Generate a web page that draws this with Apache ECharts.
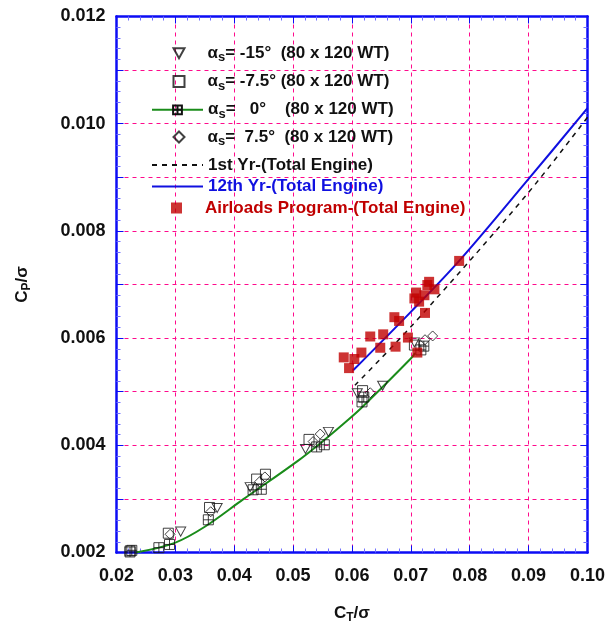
<!DOCTYPE html>
<html><head><meta charset="utf-8">
<script src="https://cdn.jsdelivr.net/npm/echarts@6/dist/echarts.min.js"></script>
<style>html,body{margin:0;padding:0;background:#fff}#c{width:608px;height:629px}</style>
</head><body><div id="c"></div>
<script>
// ---- data ----
const alphaM15 = [[0.0309,0.00239],[0.0371,0.00283],[0.0427,0.00322],[0.0521,0.00393],[0.0560,0.00425],[0.0609,0.00497],[0.0652,0.00511],[0.0706,0.00592]];
const alphaM75 = [[0.0223,0.00203],[0.0288,0.00236],[0.0358,0.00284],[0.0438,0.00337],[0.0453,0.00346],[0.0527,0.00411],[0.0618,0.00502],[0.0706,0.00587]];
const alpha0   = [[0.0223,0.00201],[0.0226,0.00204],[0.0272,0.00209],[0.0290,0.00215],[0.0356,0.00261],[0.0432,0.00317],[0.0446,0.00318],[0.0540,0.00397],[0.0553,0.00401],[0.0617,0.00481],[0.0620,0.00490],[0.0717,0.00578],[0.0722,0.00585]];
const alpha75  = [[0.0291,0.00234],[0.0360,0.00276],[0.0443,0.00332],[0.0452,0.00341],[0.0534,0.00407],[0.0546,0.00421],[0.0631,0.00498],[0.0724,0.00597],[0.0737,0.00604]];
const fit0     = [[0.0233,0.00200],[0.0299,0.00218],[0.0350,0.00248],[0.0415,0.00299],[0.0508,0.00371],[0.0553,0.00410],[0.0596,0.00450],[0.0618,0.00472],[0.0700,0.00562],[0.0707,0.00572]];
const year1    = [[0.0605,0.00512],[0.0704,0.00626],[0.0894,0.00864],[0.1000,0.01012]];
const year12   = [[0.0602,0.00540],[0.0700,0.00649],[0.0782,0.00744],[0.0900,0.00897],[0.1000,0.01029]];
const airloads = [[0.0782,0.00744],[0.0731,0.00705],[0.0728,0.00699],[0.0740,0.00691],[0.0709,0.00685],[0.0723,0.00680],[0.0706,0.00674],[0.0714,0.00668],[0.0724,0.00647],[0.0672,0.00639],[0.0680,0.00632],[0.0631,0.00603],[0.0653,0.00607],[0.0695,0.00601],[0.0648,0.00582],[0.0674,0.00584],[0.0711,0.00573],[0.0616,0.00573],[0.0586,0.00564],[0.0604,0.00561],[0.0595,0.00544]];
const legendNames = {
  am15: '{g|α}{s|s}{t|= -15°  (80 x 120 WT)}',
  am75: '{g|α}{s|s}{t|= -7.5° (80 x 120 WT)}',
  a0:   '{g|α}{s|s}{t|=   0°    (80 x 120 WT)}',
  a75:  '{g|α}{s|s}{t|=  7.5°  (80 x 120 WT)}',
  yr1:  '1st Yr-(Total Engine)',
  yr12: '12th Yr-(Total Engine)',
  air:  'Airloads Program-(Total Engine)'
};
const xLabelDigits = 2, yLabelDigits = 3;

// ---- chart ----
const FONT = "'Liberation Sans', Arial, sans-serif";
const BLUE = '#0c0cf5';
const PINK = '#ff0a8c';
const triDown = 'path://M0,0L10,0L5,9Z';
const boxPlus = 'path://M0,0H10V10H0Z M5,0V10 M0,5H10';
const openStyle = {color: 'none', borderColor: '#111', borderWidth: 1};
function richAlpha(padLeft) {
  return {
    g: {fontFamily: FONT, fontWeight: 'bold', fontSize: 17, color: '#111', lineHeight: 22, padding: [0, 0, 0, padLeft]},
    s: {fontFamily: FONT, fontWeight: 'bold', fontSize: 13, color: '#111', padding: [9, 0, 0, 0], lineHeight: 22},
    t: {fontFamily: FONT, fontWeight: 'bold', fontSize: 17, color: '#111', lineHeight: 22}
  };
}
function axisCommon(extra) {
  return Object.assign({
    axisLine: {show: true, onZero: false, lineStyle: {color: BLUE, width: 2.5}},
    axisTick: {show: true, inside: true, length: 7, lineStyle: {color: BLUE, width: 1}},
    minorTick: {show: true, splitNumber: 5, length: 4, lineStyle: {color: '#7070ff', width: 1}},
    splitLine: {show: false},
    axisLabel: {show: false}
  }, extra);
}
function legendRow(name, centerY, wide, textColor, alpha) {
  const padLeft = wide ? 0 : 18;
  const lg = {
    orient: 'vertical', selectedMode: false,
    left: wide ? 146 : 166, itemWidth: wide ? 51 : 11, itemHeight: 11,
    top: centerY - (alpha ? 14.5 : 13),
    formatter: n => legendNames[n],
    data: [{name: name, textStyle: {color: textColor}}]
  };
  if (alpha) lg.textStyle = {rich: richAlpha(padLeft)};
  else lg.textStyle = {fontFamily: FONT, fontWeight: 'bold', fontSize: 17, lineHeight: 18, color: textColor,
    padding: [0, 0, 0, padLeft]};
  if (name === 'yr1' || name === 'yr12') lg.data[0].itemStyle = {opacity: 0};
  return lg;
}
const chart = echarts.init(document.getElementById('c'), null, {renderer: 'canvas'});
chart.setOption({
  animation: false,
  backgroundColor: '#fff',
  grid: {left: 116.5, right: 19.5, top: 16.5, bottom: 76.5, containLabel: false},
  xAxis: [
    axisCommon({type: 'value', min: 0.02, max: 0.10, interval: 0.01, position: 'bottom',
      splitLine: {show: true, lineStyle: {color: PINK, type: [4, 4], width: 1}},
      axisLabel: {show: true, margin: 15, fontFamily: FONT, fontWeight: 'bold', fontSize: 18, color: '#111',
        formatter: v => v.toFixed(xLabelDigits)},
      name: '{a|C}{b|T}{a|/σ}', nameLocation: 'middle', nameGap: 50,
      nameTextStyle: {rich: {
        a: {fontFamily: FONT, fontWeight: 'bold', fontSize: 17, color: '#111'},
        b: {fontFamily: FONT, fontWeight: 'bold', fontSize: 12, color: '#111', padding: [9, 0, 0, 0]}}}
    }),
    axisCommon({type: 'value', min: 0.02, max: 0.10, interval: 0.01, position: 'top'})
  ],
  yAxis: [
    axisCommon({type: 'value', min: 0.002, max: 0.012, interval: 0.001, position: 'left',
      splitLine: {show: true, lineStyle: {color: PINK, type: [4, 4], width: 1}},
      axisLabel: {show: true, margin: 11, fontFamily: FONT, fontWeight: 'bold', fontSize: 18, color: '#111',
        formatter: v => (Math.round(v * 1000) % 2 === 0 ? v.toFixed(yLabelDigits) : '')},
      name: '{a|C}{b|P}{a|/σ}', nameLocation: 'middle', nameGap: 84,
      nameTextStyle: {rich: {
        a: {fontFamily: FONT, fontWeight: 'bold', fontSize: 17, color: '#111'},
        b: {fontFamily: FONT, fontWeight: 'bold', fontSize: 12, color: '#111', padding: [9, 0, 0, 0]}}}
    }),
    axisCommon({type: 'value', min: 0.002, max: 0.012, interval: 0.001, position: 'right'})
  ],
  legend: [
    legendRow('am15', 51.7, false, '#111', true),
    legendRow('am75', 80, false, '#111', true),
    legendRow('a0', 108.3, true, '#111', true),
    legendRow('a75', 135.5, false, '#111', true),
    legendRow('yr1', 164, true, '#111', false),
    legendRow('yr12', 185.5, true, '#1010e0', false),
    legendRow('air', 207, false, '#c00000', false)
  ],
  series: [
    {name: 'a0', type: 'line', data: fit0, smooth: 0.35, symbol: boxPlus, symbolSize: 10, showSymbol: false,
      lineStyle: {color: '#1a8c1a', width: 2}, itemStyle: openStyle, z: 2},
    {name: 'yr1', type: 'line', data: year1, smooth: 0.35, symbol: 'none',
      lineStyle: {color: '#111', width: 1.5, type: [5, 5]}, itemStyle: {color: '#111'}, z: 2},
    {name: 'yr12', type: 'line', data: year12, smooth: 0.35, symbol: 'none',
      lineStyle: {color: '#1010e0', width: 2}, itemStyle: {color: '#1010e0'}, z: 2},
    {name: 'am15', type: 'scatter', data: alphaM15, symbol: triDown, symbolSize: [10, 9], itemStyle: openStyle, z: 3},
    {name: 'am75', type: 'scatter', data: alphaM75, symbol: 'rect', symbolSize: 10, itemStyle: openStyle, z: 3},
    {name: 'a0', type: 'scatter', data: alpha0, symbol: boxPlus, symbolSize: 10, itemStyle: openStyle, z: 3},
    {name: 'a75', type: 'scatter', data: alpha75, symbol: 'diamond', symbolSize: 10, itemStyle: openStyle, z: 3},
    {name: 'air', type: 'scatter', data: airloads, symbol: 'rect', symbolSize: 10,
      itemStyle: {color: '#c00000'}, z: 4}
  ]
});
</script>
</body></html>
